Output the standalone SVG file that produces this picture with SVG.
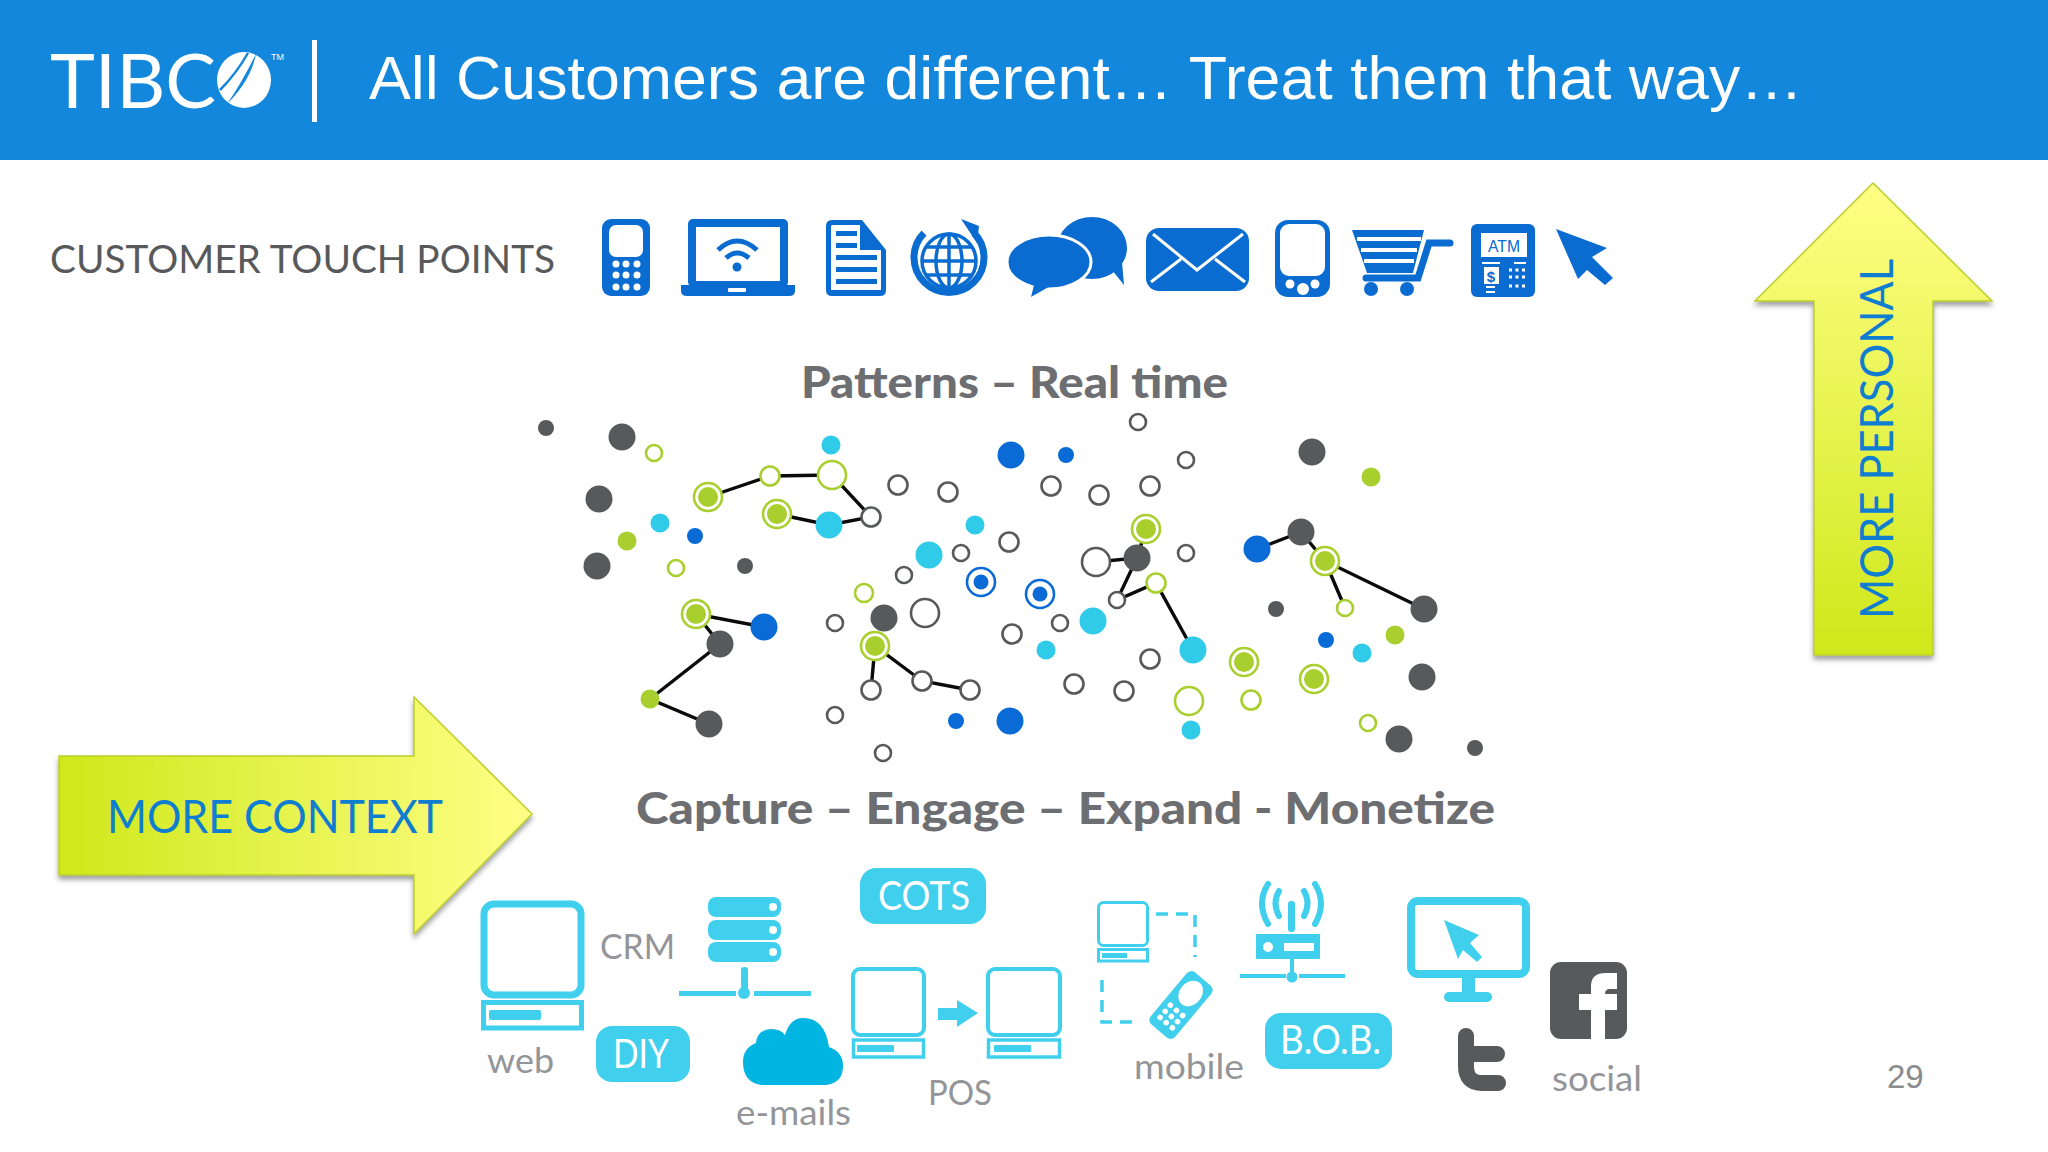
<svg xmlns="http://www.w3.org/2000/svg" width="2048" height="1152" viewBox="0 0 2048 1152">
<defs>
<linearGradient id="gUp" x1="0" y1="0" x2="0" y2="1"><stop offset="0" stop-color="#ffff85"/><stop offset="1" stop-color="#cfe81a"/></linearGradient>
<linearGradient id="gRight" x1="0" y1="0" x2="1" y2="0"><stop offset="0" stop-color="#cfe81a"/><stop offset="1" stop-color="#ffff85"/></linearGradient>
<filter id="sh" x="-10%" y="-10%" width="120%" height="120%"><feDropShadow dx="0" dy="4" stdDeviation="2.5" flood-color="#555" flood-opacity=".55"/></filter>
</defs>
<style>
.dk{fill:#58595b}.cy{fill:#2fcbe8}.bl{fill:#0a6bd6}.gr{fill:#a8cf2e}
.hd{fill:#fff;stroke:#58595b;stroke-width:2.6}
.hg{fill:#fff;stroke:#a8cf2e;stroke-width:2.6}
.hb{fill:#fff;stroke:#0a6bd6;stroke-width:2.6}
.link{fill:none;stroke:#0a0a0a;stroke-width:3.4}
.i{fill:#0a6cd0}.w{fill:#fff}
.c{fill:#41cfee}
.cs{fill:none;stroke:#41cfee}
.lab{font-family:Lato,"Open Sans",sans-serif;fill:#939598;font-size:34px}
.pt{font-family:Lato,"Open Sans",sans-serif;fill:#fff;font-size:40px}
.hd2{font-family:Lato,"Open Sans",sans-serif;font-weight:900;fill:#6d6e71;font-size:44px}
.arr{font-family:Lato,"Open Sans",sans-serif;fill:#0f7dd0;font-size:46px}
.arrow{stroke:#bccf2a;stroke-width:1.5;filter:url(#sh)}
</style>
<rect width="2048" height="1152" fill="#fff"/>
<g id="header">
<rect width="2048" height="160" fill="#1287db"/>
<g id="logo">
<text x="50" y="108" font-family="Lato,'Open Sans',sans-serif" font-weight="400" font-size="76" fill="#fff" textLength="166" lengthAdjust="spacingAndGlyphs">TIBC</text>
<ellipse cx="244" cy="80" rx="27" ry="28" fill="#fff"/>
<path d="M227 104Q241 84 256 54Q251 80 227 104Z" fill="#1287db"/>
<path d="M220 90Q236 74 248 53" fill="none" stroke="#1287db" stroke-width="2.500"/>
<text x="271" y="60" font-family="'Liberation Sans',sans-serif" font-size="9" fill="#fff">TM</text>
</g>
<rect x="312" y="40" width="5" height="82" fill="#fff"/>
<text x="369" y="99" font-family="'Liberation Sans',Arial,sans-serif" font-size="61" fill="#fff" textLength="1434" lengthAdjust="spacingAndGlyphs">All Customers are different… Treat them that way…</text>
</g>
<text id="touch-title" x="50" y="273" font-family="Lato,'Open Sans',sans-serif" font-size="39" fill="#58595b" textLength="505" lengthAdjust="spacingAndGlyphs">CUSTOMER TOUCH POINTS</text>

<g id="icon-phone"><rect class="i" x="602" y="219" width="48" height="77" rx="9"/><rect class="w" x="609" y="225" width="34" height="32" rx="7"/>
<g class="w"><circle cx="616" cy="264" r="3.5"/><circle cx="626" cy="264" r="3.5"/><circle cx="637" cy="264" r="3.5"/><circle cx="616" cy="275" r="3.5"/><circle cx="626" cy="275" r="3.5"/><circle cx="637" cy="275" r="3.5"/><circle cx="616" cy="287" r="3.5"/><circle cx="626" cy="287" r="3.5"/><circle cx="637" cy="287" r="3.5"/></g></g>
<g id="icon-laptop"><rect class="i" x="688" y="219" width="100" height="68" rx="5"/><rect class="w" x="696" y="227" width="84" height="54"/><path class="i" d="M681 285H795V291Q795 296 789 296H687Q681 296 681 291Z"/><rect class="w" x="728" y="288" width="18" height="4" rx="1"/>
<path d="M718 250Q737 232 757 250M726 258Q737 248 749 258" fill="none" stroke="#0a6cd0" stroke-width="5"/><circle class="i" cx="737" cy="267" r="4.5"/></g>
<g id="icon-doc"><path class="i" d="M832 220H862L886 250V290Q886 296 880 296H832Q826 296 826 290V226Q826 220 832 220Z"/><path class="w" d="M832 225H860V250H881V290H831V226Z"/><path class="i" d="M864 224L882 247H864Z"/>
<g class="i"><rect x="836" y="231" width="21" height="5"/><rect x="836" y="243" width="21" height="5"/><rect x="836" y="255" width="41" height="5"/><rect x="836" y="267" width="41" height="5"/><rect x="836" y="279" width="41" height="5"/></g></g>
<g id="icon-globe"><path d="M974 233A35 35 0 1 1 924 233" fill="none" stroke="#0a6cd0" stroke-width="7"/><path class="i" d="M961 219L979 226L977 243Z"/>
<g fill="none" stroke="#0a6cd0" stroke-width="3.5"><circle cx="949" cy="261" r="27"/><ellipse cx="949" cy="261" rx="13" ry="27"/><path d="M949 234V288M922 261H976M926 247H972M926 275H972"/></g></g>
<g id="icon-chat"><ellipse class="i" cx="1092" cy="248" rx="35" ry="31"/><path class="i" d="M1112 270L1124 285L1122 262Z"/><ellipse class="i" cx="1049" cy="262" rx="42" ry="27" stroke="#fff" stroke-width="3"/><path class="i" d="M1034 285L1031 297L1052 285Z"/></g>
<g id="icon-mail"><rect class="i" x="1146" y="228" width="103" height="63" rx="13"/><path d="M1153 234L1197 270L1243 234M1151 282L1181 259M1245 282L1215 259" fill="none" stroke="#fff" stroke-width="3"/></g>
<g id="icon-tablet"><rect class="i" x="1275" y="220" width="55" height="77" rx="13"/><rect class="w" x="1280" y="224" width="45" height="52" rx="9"/><circle class="w" cx="1290" cy="284" r="4.5"/><circle class="w" cx="1303" cy="289" r="6"/><circle class="w" cx="1315" cy="284" r="4.5"/></g>
<g id="icon-cart"><path class="i" d="M1352 230H1424L1413 273H1367Z"/><path d="M1357 239H1421M1361 250H1417M1364 261H1414" stroke="#fff" stroke-width="4"/><path d="M1450 243H1429L1418 278H1366" fill="none" stroke="#0a6cd0" stroke-width="7" stroke-linecap="round"/><circle class="i" cx="1371" cy="289" r="7"/><circle class="i" cx="1407" cy="289" r="7"/></g>
<g id="icon-atm"><rect class="i" x="1471" y="224" width="64" height="73" rx="6"/><rect class="w" x="1481" y="233" width="46" height="24"/>
<text x="1504" y="252" text-anchor="middle" font-family="'Liberation Sans',sans-serif" font-size="17" fill="#0a6cd0" textLength="32" lengthAdjust="spacingAndGlyphs">ATM</text>
<path d="M1482 263H1500M1514 263H1526M1486 287H1495M1486 292H1495" stroke="#fff" stroke-width="2"/><rect class="w" x="1484" y="267" width="15" height="17"/><text x="1491" y="282" text-anchor="middle" font-family="'Liberation Sans',sans-serif" font-weight="700" font-size="15" fill="#0a6cd0">$</text>
<path d="M1509 270H1526M1509 277H1526M1509 286H1526" stroke="#fff" stroke-width="3" stroke-dasharray="3 3.5"/></g>
<path id="icon-cursor" class="i" d="M1556 229L1607 248L1592 257L1613 278L1605 285L1587 270L1578 279Z"/>

<text id="patterns" class="hd2" x="801" y="398" textLength="427" lengthAdjust="spacingAndGlyphs">Patterns – Real time</text>
<text id="capture" class="hd2" x="636" y="824" textLength="859" lengthAdjust="spacingAndGlyphs">Capture – Engage – Expand  - Monetize</text>

<g id="connectors">
<path class="link" d="M708 497L770 476L832 475L871 517L829 525L777 514"/>
<path class="link" d="M764 627L696 614L720 644L650 699L709 724"/>
<path class="link" d="M871 690L875 646L922 681L970 690"/>
<path class="link" d="M1146 529L1137 558L1096 562M1137 558L1117 600L1156 583L1193 650"/>
<path class="link" d="M1257 549L1301 532L1325 561L1424 609M1325 561L1345 608"/>
</g>
<g id="dots">
<g class="dk"><circle cx="546" cy="428" r="8"/><circle cx="622" cy="437" r="13.5"/><circle cx="599" cy="499" r="13.5"/><circle cx="597" cy="566" r="13.5"/><circle cx="745" cy="566" r="8"/><circle cx="884" cy="618" r="13.5"/><circle cx="720" cy="644" r="13.5"/><circle cx="709" cy="724" r="13.5"/><circle cx="1312" cy="452" r="13.5"/><circle cx="1301" cy="532" r="13.5"/><circle cx="1137" cy="558" r="13.5"/><circle cx="1276" cy="609" r="8"/><circle cx="1424" cy="609" r="13.5"/><circle cx="1422" cy="677" r="13.5"/><circle cx="1399" cy="739" r="13.5"/><circle cx="1475" cy="748" r="8"/></g>
<g class="cy"><circle cx="831" cy="445" r="9.5"/><circle cx="829" cy="525" r="13.5"/><circle cx="660" cy="523" r="9.5"/><circle cx="975" cy="525" r="9.5"/><circle cx="929" cy="555" r="13.5"/><circle cx="1093" cy="621" r="13.5"/><circle cx="1362" cy="653" r="9.5"/><circle cx="1046" cy="650" r="9.5"/><circle cx="1193" cy="650" r="13.5"/><circle cx="1191" cy="730" r="9.5"/></g>
<g class="bl"><circle cx="1011" cy="455" r="13.5"/><circle cx="695" cy="536" r="8"/><circle cx="764" cy="627" r="13.5"/><circle cx="956" cy="721" r="8"/><circle cx="1010" cy="721" r="13.5"/><circle cx="1066" cy="455" r="8"/><circle cx="1257" cy="549" r="13.5"/><circle cx="1326" cy="640" r="8"/></g>
<g class="gr"><circle cx="627" cy="541" r="9.5"/><circle cx="650" cy="699" r="9.5"/><circle cx="1371" cy="477" r="9.5"/><circle cx="1395" cy="635" r="9.5"/></g>
<g class="hd"><circle cx="898" cy="485" r="9.5"/><circle cx="948" cy="492" r="9.5"/><circle cx="871" cy="517" r="9.5"/><circle cx="1009" cy="542" r="9.5"/><circle cx="961" cy="553" r="8"/><circle cx="904" cy="575" r="8"/><circle cx="925" cy="613" r="14"/><circle cx="835" cy="623" r="8"/><circle cx="1012" cy="634" r="9.5"/><circle cx="922" cy="681" r="9.5"/><circle cx="970" cy="690" r="9.5"/><circle cx="871" cy="690" r="9.5"/><circle cx="835" cy="715" r="8"/><circle cx="883" cy="753" r="8"/><circle cx="1138" cy="422" r="8"/><circle cx="1186" cy="460" r="8"/><circle cx="1051" cy="486" r="9.5"/><circle cx="1099" cy="495" r="9.5"/><circle cx="1150" cy="486" r="9.5"/><circle cx="1186" cy="553" r="8"/><circle cx="1096" cy="562" r="14"/><circle cx="1117" cy="600" r="8"/><circle cx="1060" cy="623" r="8"/><circle cx="1150" cy="659" r="9.5"/><circle cx="1074" cy="684" r="9.5"/><circle cx="1124" cy="691" r="9.5"/></g>
<g class="hg"><circle cx="654" cy="453" r="8"/><circle cx="770" cy="476" r="9.5"/><circle cx="832" cy="475" r="14"/><circle cx="676" cy="568" r="8"/><circle cx="864" cy="593" r="9"/><circle cx="1156" cy="583" r="9.5"/><circle cx="1345" cy="608" r="8"/><circle cx="1189" cy="701" r="14"/><circle cx="1251" cy="700" r="9.5"/><circle cx="1368" cy="723" r="8"/>
<circle cx="708" cy="497" r="14"/><circle cx="777" cy="514" r="14"/><circle cx="696" cy="614" r="14"/><circle cx="875" cy="646" r="14"/><circle cx="1146" cy="529" r="14"/><circle cx="1325" cy="561" r="14"/><circle cx="1244" cy="662" r="14"/><circle cx="1314" cy="679" r="14"/></g>
<g class="gr"><circle cx="708" cy="497" r="10"/><circle cx="777" cy="514" r="10"/><circle cx="696" cy="614" r="10"/><circle cx="875" cy="646" r="10"/><circle cx="1146" cy="529" r="10"/><circle cx="1325" cy="561" r="10"/><circle cx="1244" cy="662" r="10"/><circle cx="1314" cy="679" r="10"/></g>
<g class="hb"><circle cx="981" cy="582" r="14"/><circle cx="1040" cy="594" r="14"/></g>
<g class="bl"><circle cx="981" cy="582" r="7.5"/><circle cx="1040" cy="594" r="7.5"/></g>
</g>

<g id="arrow-personal"><path class="arrow" fill="url(#gUp)" d="M1873 183L1992 301H1933V655H1814V301H1755Z"/>
<text class="arr" transform="translate(1893 619) rotate(-90)" textLength="360" lengthAdjust="spacingAndGlyphs">MORE PERSONAL</text></g>
<g id="arrow-context"><path class="arrow" fill="url(#gRight)" d="M59 756H414V697L532 814L414 934V875H59Z"/>
<text class="arr" x="107" y="833" textLength="336" lengthAdjust="spacingAndGlyphs">MORE CONTEXT</text></g>

<g id="web"><rect class="cs" x="484" y="904" width="97" height="91" rx="10" stroke-width="7"/><rect class="cs" x="483.500" y="1002.500" width="98" height="25.500" stroke-width="5"/><rect class="c" x="489" y="1010" width="52" height="10" rx="2"/>
<text class="lab" x="487" y="1073" textLength="67" lengthAdjust="spacingAndGlyphs">web</text></g>
<text id="crm" class="lab" x="600" y="959" textLength="75" lengthAdjust="spacingAndGlyphs">CRM</text>
<g id="diy"><rect class="c" x="596" y="1026" width="94" height="56" rx="16"/><text class="pt" x="613" y="1068" textLength="56" lengthAdjust="spacingAndGlyphs">DIY</text></g>
<g id="server"><g class="c"><rect x="708" y="897" width="73" height="20" rx="8"/><rect x="708" y="920" width="73" height="20" rx="8"/><rect x="708" y="942" width="73" height="20" rx="8"/></g><g class="w"><circle cx="773" cy="907" r="4"/><circle cx="773" cy="930" r="4"/><circle cx="773" cy="952" r="4"/></g>
<rect class="c" x="741" y="967" width="7" height="28" rx="3"/><circle class="c" cx="744" cy="993" r="6"/><rect class="c" x="679" y="991" width="57" height="5"/><rect class="c" x="754" y="991" width="57" height="5"/></g>
<g id="cots"><rect class="c" x="860" y="868" width="126" height="56" rx="16"/><text class="pt" x="878" y="910" textLength="92" lengthAdjust="spacingAndGlyphs">COTS</text></g>
<g id="emails"><path fill="#00b5e2" d="M762 1085Q743 1083 743 1062Q743 1048 756 1043Q757 1030 771 1029Q781 1029 785 1035Q790 1018 803 1018Q825 1018 829 1047Q843 1052 843 1066Q843 1083 826 1085Z"/>
<text class="lab" x="736" y="1125" textLength="115" lengthAdjust="spacingAndGlyphs">e-mails</text></g>
<g id="pos"><rect class="cs" x="853" y="969" width="71" height="66" rx="7" stroke-width="4"/><rect class="cs" x="853.500" y="1040" width="70" height="17" stroke-width="3.500"/><rect class="c" x="857" y="1045" width="37" height="7" rx="1"/>
<path class="c" d="M938 1008H957V1000L978 1013L957 1027V1020H938Z"/>
<rect class="cs" x="988" y="969" width="72" height="66" rx="7" stroke-width="4"/><rect class="cs" x="988.500" y="1040" width="71" height="17" stroke-width="3.500"/><rect class="c" x="994" y="1045" width="37" height="7" rx="1"/>
<text class="lab" x="928" y="1105" textLength="64" lengthAdjust="spacingAndGlyphs">POS</text></g>
<g id="mobile"><rect class="cs" x="1098.500" y="902.500" width="49" height="43" rx="5" stroke-width="3"/><rect class="cs" x="1098.500" y="949.500" width="49" height="11.500" stroke-width="3"/><rect class="c" x="1102" y="953" width="25" height="5"/>
<path d="M1156 914H1195V957M1102 980V1022H1140" fill="none" stroke="#41cfee" stroke-width="3.500" stroke-dasharray="12 8"/>
<g transform="translate(1181 1005) rotate(40)"><rect class="c" x="-16" y="-34" width="32" height="68" rx="6"/><ellipse class="w" cx="0" cy="-15" rx="11" ry="14"/><g class="w"><circle cx="-8" cy="7" r="2.800"/><circle cx="0" cy="7" r="2.800"/><circle cx="8" cy="7" r="2.800"/><circle cx="-8" cy="15" r="2.800"/><circle cx="0" cy="15" r="2.800"/><circle cx="8" cy="15" r="2.800"/><circle cx="-8" cy="23" r="2.800"/><circle cx="0" cy="23" r="2.800"/><circle cx="8" cy="23" r="2.800"/></g></g>
<text class="lab" x="1134" y="1079" textLength="110" lengthAdjust="spacingAndGlyphs">mobile</text></g>
<g id="router"><rect class="c" x="1288" y="901" width="7" height="31" rx="3"/><path d="M1268 884Q1256 903 1268 924M1279 891Q1272 903 1279 916M1315 884Q1327 903 1315 924M1304 891Q1311 903 1304 916" class="cs" stroke-width="6" stroke-linecap="round"/>
<rect class="c" x="1256" y="934" width="64" height="25" rx="1"/><circle class="w" cx="1268" cy="947" r="5"/><rect class="w" x="1284" y="943" width="30" height="8"/><rect class="c" x="1290" y="959" width="4" height="18"/><circle class="c" cx="1292" cy="977" r="5.500"/><rect class="c" x="1240" y="974" width="46" height="4"/><rect class="c" x="1299" y="974" width="46" height="4"/></g>
<g id="bob"><rect class="c" x="1265" y="1013" width="127" height="56" rx="16"/><text class="pt" x="1280" y="1054" textLength="101" lengthAdjust="spacingAndGlyphs">B.O.B.</text></g>
<g id="display"><rect class="cs" x="1411" y="901" width="115" height="73" rx="7" stroke-width="8"/><rect class="c" x="1462" y="977" width="13" height="17"/><rect class="c" x="1444" y="992" width="48" height="10" rx="5"/><path class="c" d="M1444 920L1479 935L1470 943L1482 957L1477 962L1463 950L1458 959Z"/></g>
<g id="twitter"><path d="M1466 1036V1066Q1466 1083 1482 1083H1498M1466 1054H1497" fill="none" stroke="#58595b" stroke-width="16" stroke-linecap="round"/></g>
<g id="facebook"><rect class="dk" x="1550" y="962" width="77" height="77" rx="11"/><path class="w" d="M1591 1039V1010H1579V994H1591V986Q1591 973 1606 973H1617V989H1610Q1605 989 1605 994H1617V1010H1605V1039Z"/></g>
<text id="social" class="lab" x="1552" y="1091" textLength="90" lengthAdjust="spacingAndGlyphs">social</text>
<text id="page" x="1887" y="1088" font-family="'Liberation Sans',sans-serif" font-size="33" fill="#8a8c8e">29</text>
</svg>
